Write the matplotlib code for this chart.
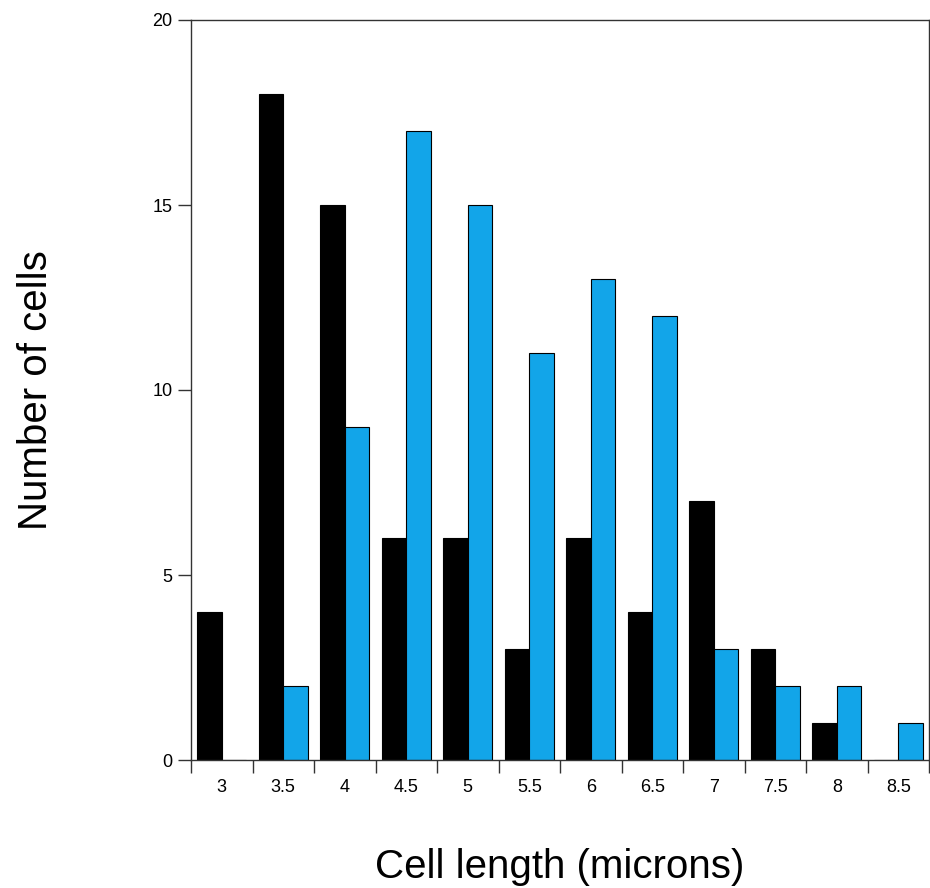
import numpy as np
import matplotlib.pyplot as plt
from matplotlib.ticker import FixedLocator

plt.rcParams['font.family'] = ['Liberation Sans', 'DejaVu Sans']

lengths = ['3', '3.5', '4', '4.5', '5', '5.5', '6', '6.5', '7', '7.5', '8', '8.5']
black_counts = [4, 18, 15, 6, 6, 3, 6, 4, 7, 3, 1, 0]
blue_counts = [0, 2, 9, 17, 15, 11, 13, 12, 3, 2, 2, 1]

fig = plt.figure(figsize=(9.3, 8.88), dpi=100)
ax = fig.add_axes([191/930, 128/888, 738/930, 740/888])

x = np.arange(len(lengths))
w = 0.4
ax.bar(x - w/2, black_counts, w, color='black', edgecolor='black', linewidth=0.8)
ax.bar(x + w/2, blue_counts, w, color='#12a5e9', edgecolor='black', linewidth=0.8)

ax.set_xlim(-0.5, len(lengths) - 0.5)
ax.set_ylim(0, 20)

ax.set_xticks(x)
ax.set_xticklabels(lengths, fontsize=13)
ax.xaxis.set_minor_locator(FixedLocator(np.arange(len(lengths) + 1) - 0.5))
ax.tick_params(axis='x', which='major', length=0, pad=14)
ax.tick_params(axis='x', which='minor', length=9.5, width=1, color='#333333')

ax.set_yticks([0, 5, 10, 15, 20])
ax.tick_params(axis='y', length=9.5, width=1, color='#333333', pad=4, labelsize=13)

for s in ax.spines.values():
    s.set_color('#333333')
    s.set_linewidth(1)

ax.set_xlabel('Cell length (microns)', fontsize=29, labelpad=37)
ax.set_ylabel('Number of cells', fontsize=29, labelpad=70)

fig.savefig('out.png', dpi=100)
